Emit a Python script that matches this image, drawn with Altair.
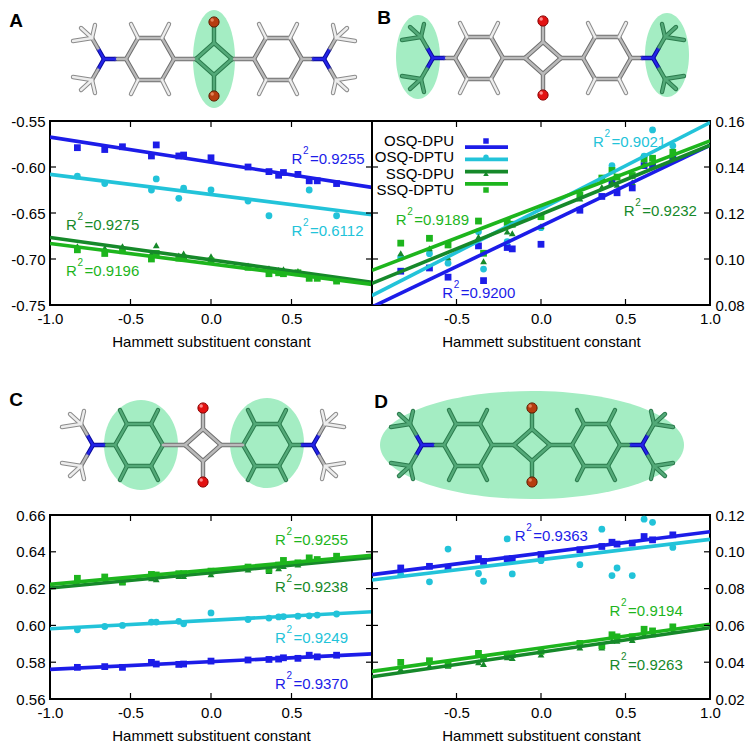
import altair as alt
import pandas as pd

FONT = "Liberation Sans"

SERIES = ["OSQ-DPU", "OSQ-DPTU", "SSQ-DPU", "SSQ-DPTU"]
COLORS = ["#1c1ce8", "#22c3d9", "#16892a", "#1db51d"]
SHAPES = ["square", "circle", "triangle-up", "square"]

SIGMA = [-0.83, -0.66, -0.55, -0.37, -0.34, -0.20, -0.17, 0.00,
         0.23, 0.36, 0.42, 0.45, 0.54, 0.61, 0.66, 0.78]

# ---- panel A values ----
A_OSQ_DPU = [-0.579, -0.581, -0.578, -0.588, -0.576, -0.588, -0.587, -0.590,
             -0.600, -0.605, -0.609, -0.606, -0.608, -0.615, -0.615, -0.618]
A_OSQ_DPTU = [-0.610, -0.618, None, -0.625, -0.613, -0.634, -0.623, -0.625,
              -0.637, -0.653, None, None, None, -0.625, None, -0.653]
A_SSQ_DPU = [-0.686, -0.688, -0.686, -0.694, -0.685, -0.696, -0.694, -0.697,
             -0.707, -0.710, -0.712, -0.711, -0.713, -0.717, -0.719, -0.722]
A_SSQ_DPTU = [-0.690, -0.694, -0.691, -0.700, -0.694, -0.699, -0.699, -0.702,
              -0.709, -0.716, -0.715, -0.716, -0.715, -0.721, -0.721, -0.724]

# ---- panel B values ----
B_OSQ_DPU = [0.0947, 0.0961, 0.0921, 0.1057, 0.0906, 0.1050, 0.1044, 0.1064,
             0.1212, 0.1272, 0.1334, 0.1288, 0.1309, 0.1406, 0.1406, 0.1435]
B_OSQ_DPTU = [0.1007, 0.1023, 0.0982, 0.1119, 0.0956, 0.1076, None, 0.1136,
              None, None, 0.1406, None, None, 0.1447, 0.1561, 0.1492]
B_SSQ_DPU = [0.1025, 0.1047, 0.1007, 0.1097, 0.0990, 0.1119, 0.1112, 0.1143,
             0.1263, 0.1313, 0.1334, 0.1323, 0.1334, 0.1413, 0.1420, 0.1449]
B_SSQ_DPTU = [0.1069, 0.1090, 0.1061, 0.1165, 0.1025, 0.1159, 0.1151, 0.1184,
              0.1277, 0.1352, 0.1385, 0.1356, 0.1363, 0.1435, 0.1438, 0.1464]

# ---- panel C values ----
C_OSQ_DPU = [0.5772, 0.5776, 0.5772, 0.5799, 0.5790, 0.5788, 0.5790, 0.5806,
             0.5812, 0.5815, 0.5817, 0.5824, 0.5821, 0.5838, 0.5829, 0.5838]
C_OSQ_DPTU = [0.5976, 0.5994, 0.6000, 0.6018, 0.6018, 0.6022, 0.6009, 0.6068,
              0.6032, 0.6040, 0.6046, 0.6048, 0.6050, 0.6052, 0.6056, 0.6062]
C_SSQ_DPU = [0.6233, 0.6242, 0.6233, 0.6256, 0.6251, 0.6268, 0.6268, 0.6277,
             0.6304, 0.6295, 0.6310, 0.6322, 0.6331, 0.6349, 0.6349, 0.6367]
C_SSQ_DPTU = [0.6256, 0.6263, 0.6238, 0.6277, 0.6274, 0.6281, 0.6281, 0.6295,
              0.6317, 0.6304, 0.6328, 0.6353, 0.6340, 0.6367, 0.6358, 0.6376]

# ---- panel D values ----
D_OSQ_DPU = [0.0912, 0.0921, 0.0916, 0.0963, 0.0948, 0.0961, 0.0963, 0.0985,
             0.1011, 0.1029, 0.1052, 0.1042, 0.1047, 0.1083, 0.1065, 0.1092]
D_OSQ_DPTU = [0.0876, 0.0837, 0.1015, 0.0882, 0.0840, 0.1070, 0.0880, 0.0952,
              0.0930, 0.1123, 0.0871, 0.0912, 0.0871, 0.1177, 0.1160, 0.1024]
D_SSQ_DPU = [0.0363, 0.0381, 0.0381, 0.0399, 0.0390, 0.0426, 0.0423, 0.0441,
             0.0480, 0.0480, 0.0516, 0.0516, 0.0520, 0.0552, 0.0552, 0.0570]
D_SSQ_DPTU = [0.0399, 0.0408, 0.0387, 0.0448, 0.0426, 0.0441, 0.0441, 0.0459,
              0.0502, 0.0489, 0.0549, 0.0538, 0.0538, 0.0579, 0.0570, 0.0592]

# ---- R^2 annotations ----
A_R2_SERIES = ["OSQ-DPU", "OSQ-DPTU", "SSQ-DPU", "SSQ-DPTU"]
A_R2_X = [0.50, 0.50, -0.90, -0.90]
A_R2_Y = [-0.5967, -0.675, -0.6685, -0.7188]
A_R2_TXT = ["0.9255", "0.6112", "0.9275", "0.9196"]

B_R2_SERIES = ["OSQ-DPU", "OSQ-DPTU", "SSQ-DPU", "SSQ-DPTU"]
B_R2_X = [-0.585, 0.308, 0.49, -0.859]
B_R2_Y = [0.0832, 0.1488, 0.1188, 0.1147]
B_R2_TXT = ["0.9200", "0.9021", "0.9232", "0.9189"]

C_R2_SERIES = ["OSQ-DPU", "OSQ-DPTU", "SSQ-DPU", "SSQ-DPTU"]
C_R2_X = [0.397, 0.397, 0.397, 0.397]
C_R2_Y = [0.5654, 0.5904, 0.6184, 0.6439]
C_R2_TXT = ["0.9370", "0.9249", "0.9238", "0.9255"]

D_R2_SERIES = ["OSQ-DPU", "SSQ-DPTU", "SSQ-DPU"]
D_R2_X = [-0.155, 0.406, 0.406]
D_R2_Y = [0.1056, 0.0652, 0.0356]
D_R2_TXT = ["0.9363", "0.9194", "0.9263"]

# ---- axes ----
XTICKS_LEFT = [-1.0, -0.5, 0.0, 0.5]
XTICKS_RIGHT = [-0.5, 0.0, 0.5, 1.0]
XTICKS_INNER = [-0.5, 0.0, 0.5]
YTICKS_A = [-0.75, -0.70, -0.65, -0.60, -0.55]
YTICKS_B = [0.08, 0.10, 0.12, 0.14, 0.16]
YTICKS_C = [0.56, 0.58, 0.60, 0.62, 0.64, 0.66]
YTICKS_D = [0.02, 0.04, 0.06, 0.08, 0.10, 0.12]
XTITLE = "Hammett substituent constant"

# ---- molecule template (pixel units, y down) ----
HEX = [(-40, 0), (-52, -21), (-76, -21), (-88, 0), (-76, 21), (-52, 21)]
HEX_H = [(1, (-45, -35)), (2, (-83, -35)), (4, (-83, 35)), (5, (-45, 35))]
SQ_L, SQ_T, SQ_R, SQ_B = (-18, 0), (0, -16), (18, 0), (0, 16)
O_POS = [(0, -37), (0, 37)]
N_POS = (-110, 0)
ME = [(-122, -21), (-122, 21)]
ME_H = [[(-141, -18), (-119, -34), (-133, -31)],
        [(-141, 18), (-119, 34), (-133, 31)]]

BOND_COL = {
    "gray": ("#6f6f6f", "#bababa"),
    "white": ("#8a8a8a", "#ededed"),
    "green": ("#2b7b4d", "#53a978"),
    "blue": ("#0b0b9c", "#2424e8"),
}
BALL_COL = {"O": ("#e31212", "#8a0000", "#ff9c9c"),
            "S": ("#b63d10", "#5e1c00", "#e88a60")}
ELL_COLOR = "#a4edc3"


def pick(kind, hl):
    grp, is_h = kind
    if grp == "N":
        return BOND_COL["blue"]
    if grp in hl:
        return BOND_COL["green"]
    if is_h:
        return BOND_COL["white"]
    return BOND_COL["gray"]


def molecule(hl):
    bonds = []

    def add(p, q, kind):
        oc, ic = pick(kind, hl)
        bonds.append(dict(x=p[0], y=p[1], x2=q[0], y2=q[1], oc=oc, ic=ic))

    def mid(p, q):
        return ((p[0] + q[0]) / 2, (p[1] + q[1]) / 2)

    for s in (1, -1):
        def f(p):
            return (p[0] * s, p[1])
        for i in range(6):
            add(f(HEX[i]), f(HEX[(i + 1) % 6]), ("ring", False))
        for i, h in HEX_H:
            add(f(HEX[i]), f(h), ("ring", True))
        add(f(SQ_L), f(HEX[0]), ("link", False))
        m = mid(HEX[3], N_POS)
        add(f(HEX[3]), f(m), ("ring", False))
        add(f(m), f(N_POS), ("N", False))
        for me, hs in zip(ME, ME_H):
            m2 = mid(N_POS, me)
            add(f(N_POS), f(m2), ("N", False))
            add(f(m2), f(me), ("amine", False))
            for h in hs:
                add(f(me), f(h), ("amine", True))
    for p, q in [(SQ_L, SQ_T), (SQ_T, SQ_R), (SQ_R, SQ_B), (SQ_B, SQ_L),
                 (SQ_T, O_POS[0]), (SQ_B, O_POS[1])]:
        add(p, q, ("sq", False))
    return pd.DataFrame(bonds)


def ell_row(ex, ey, rx, ry):
    R = max(rx, ry)
    a, b = rx / R, ry / R
    path = f"M{-a:.4f},0A{a:.4f},{b:.4f} 0 1,0 {a:.4f},0A{a:.4f},{b:.4f} 0 1,0 {-a:.4f},0Z"
    return dict(x=ex, y=ey, path=path, sz=(2 * R) ** 2)


def fmt_expr(spec):
    return f"replace(format(datum.value, '{spec}'), '\u2212', '-')"


def panel(label, label_pos, vals, ylim, yticks, xticks, orient, W, H,
          mol_c, ells, hl, ball, r2, legend=False):
    rows = []
    for s, vs in zip(SERIES, vals):
        for x, v in zip(SIGMA, vs):
            if v is not None:
                rows.append({"sigma": x, "val": v, "series": s})
    df = pd.DataFrame(rows)

    xs = alt.Scale(domain=[-1, 1], nice=False, zero=False)
    ys = alt.Scale(domain=ylim, nice=False, zero=False)
    cs = alt.Scale(domain=SERIES, range=COLORS)
    ss = alt.Scale(domain=SERIES, range=SHAPES)

    xaxis = alt.Axis(values=xticks, labelExpr=fmt_expr(".1f"), title=XTITLE,
                     labelFlush=False, labelOverlap=False, labelPadding=6,
                     titlePadding=8)
    yaxis = alt.Axis(values=yticks, orient=orient, labelExpr=fmt_expr(".2f"),
                     title="", labelFlush=False, labelOverlap=False,
                     labelPadding=5)

    cx, cy = mol_c
    mxs = alt.Scale(domain=[-160, 160], range=[cx - 160, cx + 160], nice=False, zero=False)
    mys = alt.Scale(domain=[-70, 70], range=[cy - 70, cy + 70], nice=False, zero=False)
    MX = alt.X("x:Q", scale=mxs, axis=None)
    MY = alt.Y("y:Q", scale=mys, axis=None)

    layers = []
    # highlight ellipses
    edf = pd.DataFrame([ell_row(*e) for e in ells])
    layers.append(alt.Chart(edf).mark_point(filled=True, opacity=1).encode(
        x=MX, y=MY, shape=alt.Shape("path:N", scale=None),
        size=alt.Size("sz:Q", scale=None), color=alt.value(ELL_COLOR)))
    # bonds
    bdf = molecule(hl)
    for col, w in (("oc", 4.4), ("ic", 2.4)):
        layers.append(alt.Chart(bdf).mark_rule(strokeCap="round").encode(
            x=MX, y=MY, x2="x2:Q", y2="y2:Q",
            color=alt.Color(f"{col}:N", scale=None),
            strokeWidth=alt.value(w)))
    # O / S atoms
    fill, stroke, shine = BALL_COL[ball]
    adf = pd.DataFrame([{"x": p[0], "y": p[1]} for p in O_POS])
    layers.append(alt.Chart(adf).mark_point(filled=True, size=105, opacity=1,
                                            stroke=stroke, strokeWidth=1).encode(
        x=MX, y=MY, color=alt.value(fill)))
    sdf = pd.DataFrame([{"x": p[0] - 1.8, "y": p[1] - 2.0} for p in O_POS])
    layers.append(alt.Chart(sdf).mark_point(filled=True, size=12, opacity=0.9).encode(
        x=MX, y=MY, color=alt.value(shine)))
    # panel letter
    layers.append(alt.Chart(pd.DataFrame({"t": [label]})).mark_text(
        font=FONT, fontSize=19, fontWeight="bold", align="center",
        baseline="middle", color="black").encode(
        text="t:N", x=alt.value(label_pos[0]), y=alt.value(label_pos[1])))

    # data points
    layers.append(alt.Chart(df).mark_point(filled=True, opacity=1, size=46).encode(
        x=alt.X("sigma:Q", scale=xs, axis=xaxis),
        y=alt.Y("val:Q", scale=ys, axis=yaxis),
        color=alt.Color("series:N", scale=cs, legend=None),
        shape=alt.Shape("series:N", scale=ss, legend=None)))
    # fitted lines
    layers.append(alt.Chart(df).transform_regression(
        "sigma", "val", groupby=["series"], extent=[-1, 1]
    ).mark_line(clip=True, strokeWidth=3.6).encode(
        x=alt.X("sigma:Q", scale=xs, axis=None),
        y=alt.Y("val:Q", scale=ys, axis=None),
        color=alt.Color("series:N", scale=cs, legend=None)))

    # inward tick marks (mirrored on all sides)
    xt = pd.DataFrame({"t": XTICKS_INNER})
    yt = pd.DataFrame({"t": yticks[1:-1]})
    TX = alt.X("t:Q", scale=xs, axis=None)
    TY = alt.Y("t:Q", scale=ys, axis=None)
    for y0, y1 in ((0, 6), (H, H - 6)):
        layers.append(alt.Chart(xt).mark_rule(color="black", strokeWidth=1.2).encode(
            x=TX, y=alt.value(y0), y2=alt.value(y1)))
    for x0, x1 in ((0, 6), (W, W - 6)):
        layers.append(alt.Chart(yt).mark_rule(color="black", strokeWidth=1.2).encode(
            y=TY, x=alt.value(x0), x2=alt.value(x1)))

    # R^2 labels: "R", raised "2", then "=value"
    rs, rx, ry, rt = r2
    rdf = pd.DataFrame({"series": rs, "ax": rx, "ay": ry,
                        "txt": ["=" + t for t in rt]})
    RX = alt.X("ax:Q", scale=xs, axis=None)
    RY = alt.Y("ay:Q", scale=ys, axis=None)
    RC = alt.Color("series:N", scale=cs, legend=None)
    layers.append(alt.Chart(rdf).mark_text(font=FONT, fontSize=15, align="left",
                                           baseline="alphabetic").encode(
        x=RX, y=RY, text=alt.value("R"), color=RC))
    layers.append(alt.Chart(rdf).mark_text(font=FONT, fontSize=10, align="left",
                                           baseline="alphabetic", dx=11.5, dy=-10).encode(
        x=RX, y=RY, text=alt.value("2"), color=RC))
    layers.append(alt.Chart(rdf).mark_text(font=FONT, fontSize=15, align="left",
                                           baseline="alphabetic", dx=18.5).encode(
        x=RX, y=RY, text="txt:N", color=RC))

    if legend:
        ldf = pd.DataFrame({"series": SERIES})
        LY = alt.Y("series:N", scale=alt.Scale(domain=SERIES, range=[20, 69], padding=0),
                   axis=None)
        layers.append(alt.Chart(ldf).mark_text(font=FONT, fontSize=15, align="right",
                                               baseline="middle", color="black").encode(
            x=alt.value(82), y=LY, text="series:N"))
        layers.append(alt.Chart(ldf).mark_rule(strokeWidth=3.6).encode(
            x=alt.value(93), x2=alt.value(136), y=LY,
            color=alt.Color("series:N", scale=cs, legend=None)))
        layers.append(alt.Chart(ldf).mark_point(filled=True, opacity=1, size=30).encode(
            x=alt.value(114), y=LY,
            color=alt.Color("series:N", scale=cs, legend=None),
            shape=alt.Shape("series:N", scale=ss, legend=None)))

    return alt.layer(*layers).resolve_scale(
        x="independent", y="independent").properties(width=W, height=H)


WL, WR, H = 322, 338, 184
ALL_HL = {"sq", "link", "ring", "amine"}

pA = panel("A", (-34, -100), [A_OSQ_DPU, A_OSQ_DPTU, A_SSQ_DPU, A_SSQ_DPTU],
           [-0.75, -0.55], YTICKS_A, XTICKS_LEFT, "left", WL, H,
           (164, -62), [(0, 0, 21, 49)], {"sq"}, "S",
           (A_R2_SERIES, A_R2_X, A_R2_Y, A_R2_TXT))
pB = panel("B", (12, -103), [B_OSQ_DPU, B_OSQ_DPTU, B_SSQ_DPU, B_SSQ_DPTU],
           [0.08, 0.16], YTICKS_B, XTICKS_RIGHT, "right", WR, H,
           (171, -63), [(-125, -1, 22, 42), (124, -3, 22, 42)], {"amine"}, "O",
           (B_R2_SERIES, B_R2_X, B_R2_Y, B_R2_TXT), legend=True)
pC = panel("C", (-34, -115), [C_OSQ_DPU, C_OSQ_DPTU, C_SSQ_DPU, C_SSQ_DPTU],
           [0.56, 0.66], YTICKS_C, XTICKS_LEFT, "left", WL, H,
           (153, -70), [(-62, 0, 37, 45), (64, -2, 37, 45)], {"ring"}, "O",
           (C_R2_SERIES, C_R2_X, C_R2_Y, C_R2_TXT))
pD = panel("D", (9, -113), [D_OSQ_DPU, D_OSQ_DPTU, D_SSQ_DPU, D_SSQ_DPTU],
           [0.02, 0.12], YTICKS_D, XTICKS_RIGHT, "right", WR, H,
           (160, -70), [(0, 0, 152, 54)], ALL_HL, "S",
           (D_R2_SERIES, D_R2_X, D_R2_Y, D_R2_TXT))

row1 = alt.hconcat(pA, pB, spacing=0, bounds="flush")
row2 = alt.hconcat(pC, pD, spacing=0, bounds="flush")

chart = alt.vconcat(row1, row2, spacing=39).properties(
    padding=0, background="white"
).configure_view(stroke="black", strokeWidth=2).configure_axis(
    labelFont=FONT, labelFontSize=15, titleFont=FONT, titleFontSize=15,
    titleFontWeight="normal", labelColor="black", titleColor="black",
    ticks=False, domain=False, grid=False
)

chart.save("out.html", embed_options={"renderer": "svg", "actions": False})
